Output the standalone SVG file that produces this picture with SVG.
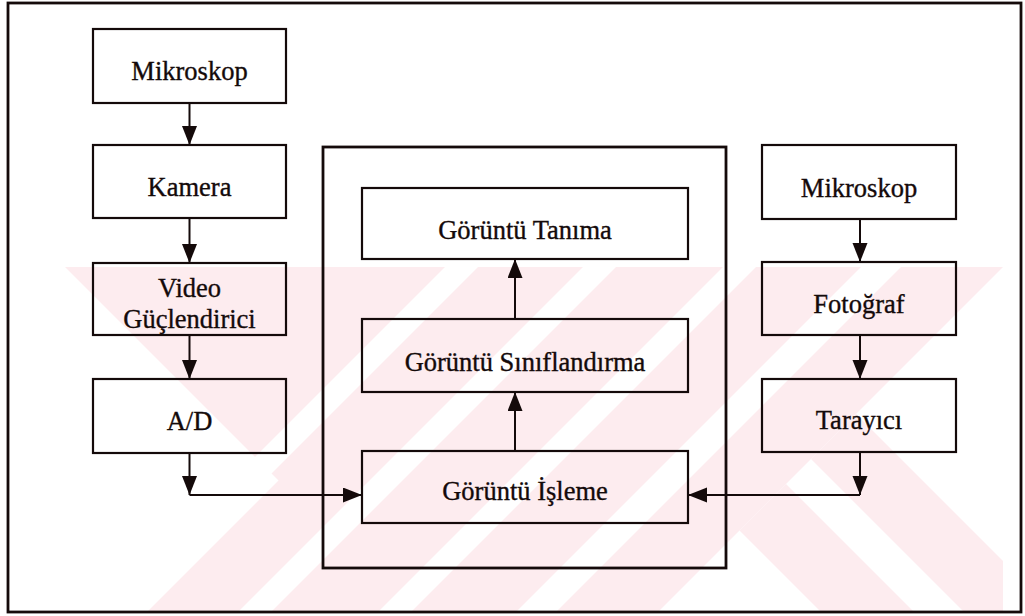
<svg xmlns="http://www.w3.org/2000/svg" width="1025" height="616" viewBox="0 0 1025 616">
<style>
.box{fill:none;stroke:#140a0a;stroke-width:2.2}
.frame{fill:none;stroke:#140a0a;stroke-width:2.8}
.lbl{font-family:"Liberation Serif","Times New Roman",serif;font-size:26.5px;fill:#140a0a;stroke:#140a0a;stroke-width:0.35;text-anchor:middle}
.con{fill:none;stroke:#140a0a;stroke-width:2}
.wm{fill:#fdecef}
.wg{fill:#ffffff}
</style>
<defs>
<marker id="ah" markerUnits="userSpaceOnUse" markerWidth="20" markerHeight="16" refX="19" refY="7.5" orient="auto">
<path d="M0,0 L19,7.5 L0,15 z" fill="#140a0a"/>
</marker>
<clipPath id="wmclip"><rect x="65" y="267" width="938" height="345"/></clipPath>
<clipPath id="leftx"><polygon points="0,0 1270,0 0,1270"/></clipPath>
<clipPath id="rightx"><polygon points="1270,0 1400,0 1400,800 470,800"/></clipPath>
</defs>
<rect width="1025" height="616" fill="#ffffff"/>
<g id="watermark" clip-path="url(#wmclip)">
<g clip-path="url(#leftx)">
<rect class="wm" x="0" y="200" width="1100" height="500"/>
<polygon class="wg" points="0,202 278.5,480.5 0,759"/>
<polygon class="wg" points="712,0 745,0 0,745 0,712"/>
<polygon class="wg" points="850,0 883,0 0,883 0,850"/>
<polygon class="wg" points="990,0 1023,0 0,1023 0,990"/>
<polygon class="wg" points="1128,0 1168,0 0,1168 0,1128"/>
</g>
<g clip-path="url(#rightx)">
<polygon class="wm" points="209,0 302,0 1002,700 909,700"/>
<polygon class="wm" points="352,0 442,0 1142,700 1052,700"/>
</g>
</g>
<rect id="outer-frame" class="frame" x="8" y="3" width="1013" height="609"/>
<rect id="processing-frame" class="frame" x="323" y="147" width="403" height="421"/>
<g id="connectors">
<path class="con" d="M189.5,103 V145" marker-end="url(#ah)"/>
<path class="con" d="M189.5,218 V263" marker-end="url(#ah)"/>
<path class="con" d="M189.5,335 V379" marker-end="url(#ah)"/>
<path class="con" d="M189.5,453 V495" marker-end="url(#ah)"/>
<path class="con" d="M189.5,495 H362" marker-end="url(#ah)"/>
<path class="con" d="M860,219 V262" marker-end="url(#ah)"/>
<path class="con" d="M860,335 V379" marker-end="url(#ah)"/>
<path class="con" d="M860,452 V495" marker-end="url(#ah)"/>
<path class="con" d="M860,495 H688" marker-end="url(#ah)"/>
<path class="con" d="M515,451 V392" marker-end="url(#ah)"/>
<path class="con" d="M515,319 V259" marker-end="url(#ah)"/>
</g>
<g id="mikroskop-left"><rect class="box" x="93" y="29" width="193" height="74"/><text class="lbl" x="189.5" y="80">Mikroskop</text></g>
<g id="kamera"><rect class="box" x="93" y="145" width="193" height="73"/><text class="lbl" x="189.5" y="196">Kamera</text></g>
<g id="video"><rect class="box" x="93" y="263" width="193" height="72"/><text class="lbl" x="189.5" y="297">Video</text><text class="lbl" x="189.5" y="328">Güçlendirici</text></g>
<g id="ad"><rect class="box" x="93" y="379" width="193" height="74"/><text class="lbl" x="189.5" y="430">A/D</text></g>
<g id="tanima"><rect class="box" x="362" y="188" width="326" height="71"/><text class="lbl" x="525" y="239">Görüntü Tanıma</text></g>
<g id="siniflandirma"><rect class="box" x="362" y="319" width="326" height="73"/><text class="lbl" x="525" y="371">Görüntü Sınıflandırma</text></g>
<g id="isleme"><rect class="box" x="362" y="451" width="326" height="72"/><text class="lbl" x="525" y="500">Görüntü İşleme</text></g>
<g id="mikroskop-right"><rect class="box" x="762" y="145" width="194" height="74"/><text class="lbl" x="859" y="197">Mikroskop</text></g>
<g id="fotograf"><rect class="box" x="762" y="262" width="194" height="73"/><text class="lbl" x="859" y="313">Fotoğraf</text></g>
<g id="tarayici"><rect class="box" x="762" y="379" width="194" height="73"/><text class="lbl" x="859" y="429">Tarayıcı</text></g>
</svg>
